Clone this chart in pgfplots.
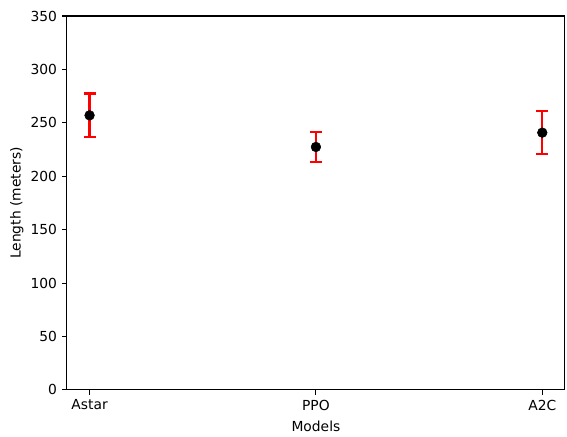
\documentclass[border=0pt]{standalone}
\usepackage{pgfplots}
\pgfplotsset{compat=1.18}
\usepackage{fontspec}
\setmainfont{DejaVu Sans}
\begin{document}
\fontsize{10}{12}\selectfont
\begin{tikzpicture}
\begin{axis}[
  scale only axis,
  width=358.6bp, height=269.3bp,
  xmin=-0.1, xmax=2.1,
  ymin=0, ymax=350,
  xtick={0,1,2},
  xticklabels={Astar,PPO,A2C},
  ytick={0,50,100,150,200,250,300,350},
  tick align=outside,
  major tick length=3.5pt,
  tick style={black, line width=0.8pt},
  axis line style={line width=0.8pt},
  xtick pos=bottom, ytick pos=left,
  /pgf/number format/assume math mode=true,
  ticklabel style={font=\fontsize{10}{12}\selectfont, inner sep=0pt},
  yticklabel style={xshift=-3.5pt},
  xticklabel style={yshift=-3.5pt},
  xlabel={Models}, ylabel={Length (meters)},
  every axis y label/.style={at={(axis description cs:-0.1005,0.5)}, rotate=90, anchor=center, font=\fontsize{10}{12}\selectfont},
  every axis x label/.style={at={(axis description cs:0.5,-0.097)}, anchor=center, font=\fontsize{10}{12}\selectfont},
]
\addplot[only marks, mark=none, forget plot,
  error bars/.cd, y dir=both, y explicit,
  error bar style={red, line width=1.6pt},
  error mark options={rotate=90, red, mark size=4.3pt, line width=1.6pt}]
  table[x=x, y=y, y error=e] {
x y e
0 257 20.5
1 227.4 14.2
2 240.8 20.3
};
\addplot[only marks, mark=*, mark size=3.5pt, black, mark options={fill=black}]
  table[x=x, y=y] {
x y
0 257
1 227.4
2 240.8
};
\end{axis}
\path ([xshift=-48.2bp,yshift=-30.2bp]current axis.south west) rectangle ([xshift=1.5bp,yshift=11.5bp]current axis.north east);
\end{tikzpicture}
\end{document}
